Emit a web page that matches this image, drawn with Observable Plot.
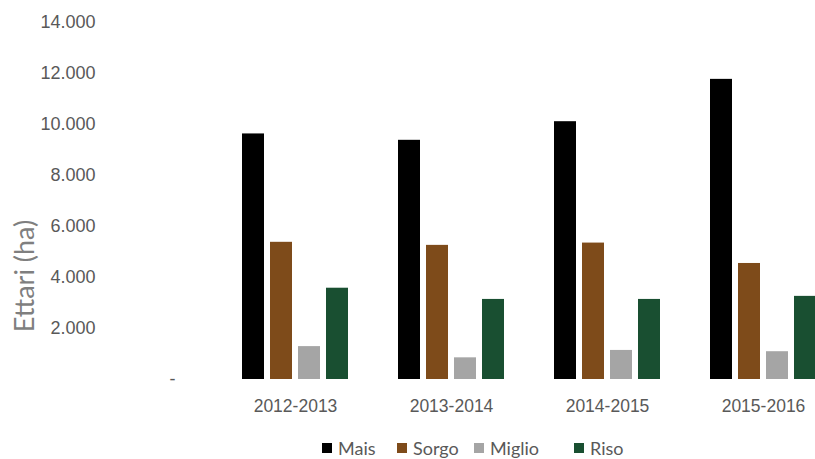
<!DOCTYPE html>
<html>
<head>
<meta charset="utf-8">
<script src="https://cdn.jsdelivr.net/npm/d3@7"></script>
<script src="https://cdn.jsdelivr.net/npm/@observablehq/plot@0.6"></script>
<style>
  body { margin: 0; background: #fff; overflow: hidden; }
  #wrap { position: relative; width: 815px; height: 459px; overflow: hidden; }
  #ylabel { position: absolute; left: 23px; top: 276px; transform: translate(-50%, -50%) rotate(-90deg);
            font-family: Lato, "Noto Sans", sans-serif; font-size: 27px; color: #7f7f7f; white-space: nowrap; }
  #legend { position: absolute; top: 439px; left: 322px; display: flex; font-family: Lato, "Noto Sans", sans-serif;
            font-size: 18px; line-height: 18px; color: #595959; }
  .item { display: flex; align-items: center; }
  .sw { width: 10px; height: 10px; margin-right: 6px; }
</style>
</head>
<body>
<div id="wrap">
  <div id="chart"></div>
  <div id="ylabel">Ettari (ha)</div>
  <div id="legend"></div>
</div>
<script>
const years = ["2012-2013", "2013-2014", "2014-2015", "2015-2016"];
const series = ["Mais", "Sorgo", "Miglio", "Riso"];
const mais   = [9630, 9380, 10110, 11770];
const sorgo  = [5380, 5260, 5350, 4550];
const miglio = [1290, 850, 1140, 1090];
const riso   = [3580, 3140, 3140, 3260];
const yTicks = [2000, 4000, 6000, 8000, 10000, 12000, 14000];
const colors = ["#000000", "#7e4b1a", "#a5a5a5", "#194f31"];

const values = [mais, sorgo, miglio, riso];
const data = years.flatMap((yr, i) => series.map((s, j) => ({year: yr, crop: s, value: values[j][i]})));
const fmt = d => d === 0 ? "-" : d3.format(",")(d).replace(/,/g, ".");

const chart = Plot.plot({
  width: 815,
  height: 425,
  marginLeft: 216,
  marginRight: -26.75,
  marginTop: 22,
  marginBottom: 46,
  style: {background: "white", fontFamily: "'Liberation Sans', Arial, sans-serif", overflow: "hidden"},
  fx: {domain: years, padding: 0, label: null},
  x: {domain: series, paddingInner: 0.21, paddingOuter: 0.85, axis: null},
  y: {domain: [0, 14000], axis: null},
  color: {domain: series, range: colors},
  marks: [
    Plot.barY(data, {fx: "year", x: "crop", y: "value", fill: "crop"}),
    Plot.axisY(yTicks, {tickSize: 0, tickPadding: 122, tickFormat: fmt, fontSize: 18, color: "#595959", label: null}),
    Plot.axisY([0], {tickSize: 0, tickPadding: 42, tickFormat: fmt, fontSize: 18, color: "#595959", label: null}),
    Plot.axisFx({anchor: "bottom", tickSize: 0, tickPadding: 20, fontSize: 17.5, color: "#595959", label: null})
  ]
});
document.getElementById("chart").append(chart);

const itemWidths = [75, 77, 100, 60];
const legend = document.getElementById("legend");
series.forEach((s, i) => {
  const it = document.createElement("div");
  it.className = "item";
  it.style.width = itemWidths[i] + "px";
  const sw = document.createElement("span");
  sw.className = "sw";
  sw.style.background = colors[i];
  const tx = document.createElement("span");
  tx.textContent = s;
  it.append(sw, tx);
  legend.append(it);
});
</script>
</body>
</html>
